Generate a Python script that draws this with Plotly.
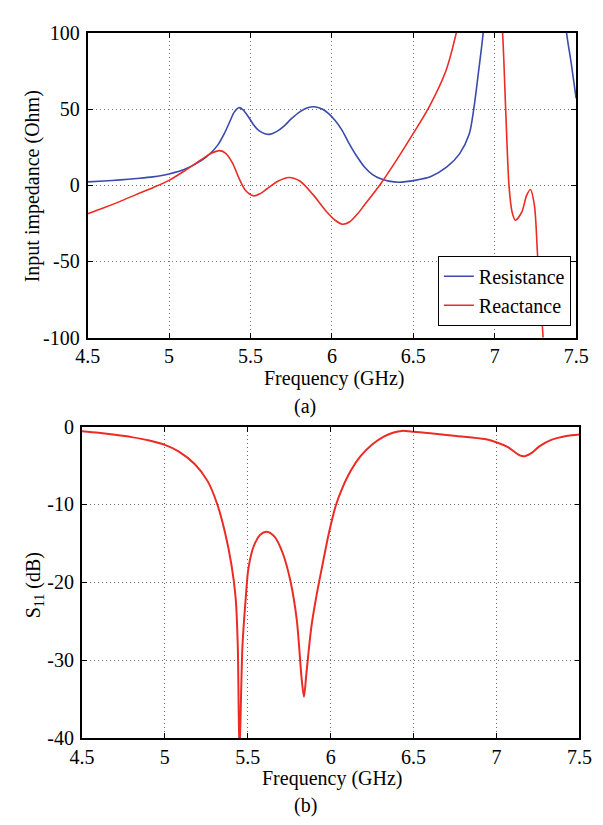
import plotly.graph_objects as go

# ---- Data (a): input impedance ----
freq_res = [4.5, 4.6, 4.7, 4.8, 4.9, 5.0, 5.1, 5.2, 5.25, 5.3, 5.34, 5.374, 5.4, 5.428, 5.455,
            5.49, 5.52, 5.55, 5.585, 5.618, 5.66, 5.706, 5.75, 5.805, 5.85, 5.893, 5.94, 5.98,
            6.02, 6.06, 6.1, 6.15, 6.2, 6.25, 6.3, 6.35, 6.41, 6.51, 6.608, 6.706, 6.784,
            6.843, 6.872, 6.9, 6.93, 6.96, 7.0, 7.2, 7.38, 7.44, 7.47, 7.5]
resistance = [2.2, 2.8, 3.5, 4.4, 5.5, 7.4, 10.6, 16.3, 20.5, 26.5, 34.0, 42.0, 48.0, 50.9, 49.5,
              44.5, 39.5, 36.0, 34.0, 33.4, 35.2, 38.8, 43.5, 48.3, 50.8, 51.5, 50.0, 47.0,
              42.5, 36.5, 28.5, 19.5, 12.0, 7.0, 4.2, 2.7, 2.0, 3.2, 5.7, 12.0, 20.6,
              33.4, 50.5, 74.0, 101.0, 150.0, 250.0, 300.0, 170.0, 101.0, 80.0, 57.0]

freq_rea = [4.5, 4.6, 4.7, 4.8, 4.9, 5.0, 5.1, 5.2, 5.26, 5.31, 5.35, 5.39, 5.43, 5.47, 5.52,
            5.56, 5.6, 5.668, 5.736, 5.805, 5.883, 5.961, 6.02, 6.065, 6.11, 6.16, 6.2, 6.3,
            6.4, 6.5, 6.6, 6.7, 6.764, 6.82, 6.9, 6.98, 7.02, 7.048, 7.068, 7.088, 7.107,
            7.127, 7.166, 7.195, 7.219, 7.244, 7.264, 7.284, 7.297, 7.33]
reactance = [-18.7, -14.8, -10.6, -6.0, -1.6, 3.2, 9.8, 17.0, 21.0, 22.7, 20.8, 14.5, 4.5, -3.5, -7.0,
             -5.5, -2.5, 2.6, 5.1, 2.6, -6.0, -16.6, -23.0, -25.6, -24.0, -18.5, -13.0, 1.0,
             17.0, 34.0, 52.0, 75.0, 100.0, 130.0, 180.0, 190.0, 140.0, 101.0, 48.0, -0.6, -17.7,
             -23.0, -17.7, -7.0, -2.8, -13.4, -47.5, -79.0, -100.0, -180.0]

# ---- Data (b): S11 ----
freq_s11 = [4.5, 4.6, 4.7, 4.8, 4.9, 5.0, 5.085, 5.18, 5.258, 5.315, 5.364, 5.402, 5.427, 5.44,
            5.45, 5.468, 5.488, 5.504, 5.537, 5.575, 5.614, 5.66, 5.71, 5.758, 5.796, 5.825,
            5.839, 5.854, 5.883, 5.912, 5.95, 5.99, 6.03, 6.07, 6.12, 6.18, 6.25, 6.32, 6.38,
            6.43, 6.5, 6.6, 6.758, 6.93, 6.998, 7.066, 7.14, 7.17, 7.21, 7.26, 7.33, 7.42, 7.5]
s11 = [-0.6, -0.8, -1.05, -1.35, -1.75, -2.35, -3.2, -4.8, -7.0, -9.9, -13.7, -17.8, -22.0, -28.3,
       -42.0, -28.2, -22.0, -18.2, -15.3, -13.9, -13.5, -14.1, -16.2, -19.9, -24.9, -32.4,
       -34.7, -31.6, -25.8, -22.0, -17.8, -13.6, -10.2, -7.9, -5.7, -3.8, -2.3, -1.3, -0.75,
       -0.55, -0.65, -0.85, -1.2, -1.6, -2.0, -2.6, -3.7, -3.8, -3.4, -2.5, -1.7, -1.2, -1.0]

x_ticks = [4.5, 5, 5.5, 6, 6.5, 7, 7.5]
x_ticktext = ["4.5", "5", "5.5", "6", "6.5", "7", "7.5"]
y1_ticks = [-100, -50, 0, 50, 100]
y1_ticktext = ["-100", "-50", "0", "50", "100"]
y2_ticks = [-40, -30, -20, -10, 0]
y2_ticktext = ["-40", "-30", "-20", "-10", "0"]

BLUE = "#3a4aad"
RED = "#ec2b24"
FONT = "Liberation Serif"
FS = 20

W, H = 603, 825
def px_x(p):
    return p / W
def px_y(p):
    return (H - p) / H

fig = go.Figure()
fig.add_trace(go.Scatter(x=freq_res, y=resistance, mode="lines", name="Resistance",
                         line=dict(color=BLUE, width=1.6, shape="spline", smoothing=0.8),
                         xaxis="x", yaxis="y"))
fig.add_trace(go.Scatter(x=freq_rea, y=reactance, mode="lines", name="Reactance",
                         line=dict(color=RED, width=1.6, shape="spline", smoothing=0.8),
                         xaxis="x", yaxis="y"))
fig.add_trace(go.Scatter(x=freq_s11, y=s11, mode="lines", name="S11", showlegend=False,
                         line=dict(color=RED, width=2, shape="spline", smoothing=0.8),
                         xaxis="x2", yaxis="y2"))

axis_common = dict(
    showline=True, linecolor="black", linewidth=1.8, mirror="ticks",
    ticks="inside", ticklen=5, tickwidth=1.3, tickcolor="black",
    showgrid=True, gridcolor="#6f6f6f", gridwidth=1, griddash="1px,3px",
    zeroline=False, tickfont=dict(family=FONT, size=FS, color="black"),
)

fig.update_layout(
    width=W, height=H,
    margin=dict(l=0, r=0, t=0, b=0),
    paper_bgcolor="white", plot_bgcolor="white",
    font=dict(family=FONT, size=FS, color="black"),
    xaxis=dict(domain=[px_x(78), px_x(588.5)], range=[4.5, 7.5], anchor="y",
               tickvals=x_ticks, ticktext=x_ticktext, ticklabelstandoff=0, **axis_common),
    yaxis=dict(domain=[px_y(335.5), px_y(22.5)], range=[-100, 100], anchor="x",
               tickvals=y1_ticks, ticktext=y1_ticktext, ticklabelstandoff=2, **axis_common),
    xaxis2=dict(domain=[px_x(72), px_x(592)], range=[4.5, 7.5], anchor="y2",
                tickvals=x_ticks, ticktext=x_ticktext, ticklabelstandoff=0, **axis_common),
    yaxis2=dict(domain=[px_y(747), px_y(427)], range=[-40, 0], anchor="x2",
                tickvals=y2_ticks, ticktext=y2_ticktext, ticklabelstandoff=2, **axis_common),
    showlegend=True,
    legend=dict(x=px_x(583), y=px_y(323.3), xanchor="right", yanchor="bottom",
                bgcolor="white", bordercolor="black", borderwidth=1,
                font=dict(family=FONT, size=FS, color="black"),
                tracegroupgap=0, itemwidth=30),
)

annotations = [
    dict(text="Frequency (GHz)", x=px_x(336), y=px_y(377.5), xref="paper", yref="paper",
         showarrow=False, xanchor="center", yanchor="middle", font=dict(family=FONT, size=FS)),
    dict(text="(a)", x=px_x(305), y=px_y(406), xref="paper", yref="paper",
         showarrow=False, xanchor="center", yanchor="middle", font=dict(family=FONT, size=FS)),
    dict(text="Input impedance (Ohm)", x=px_x(20), y=px_y(180), xref="paper", yref="paper",
         showarrow=False, textangle=-90, xanchor="center", yanchor="middle", font=dict(family=FONT, size=FS)),
    dict(text="Frequency (GHz)", x=px_x(334), y=px_y(789), xref="paper", yref="paper",
         showarrow=False, xanchor="center", yanchor="middle", font=dict(family=FONT, size=FS)),
    dict(text="(b)", x=px_x(306), y=px_y(816), xref="paper", yref="paper",
         showarrow=False, xanchor="center", yanchor="middle", font=dict(family=FONT, size=FS)),
    dict(text="S<sub>11</sub> (dB)", x=px_x(22), y=px_y(590), xref="paper", yref="paper",
         showarrow=False, textangle=-90, xanchor="center", yanchor="middle", font=dict(family=FONT, size=FS)),
]
fig.update_layout(annotations=annotations)

fig.write_html("out.html")
